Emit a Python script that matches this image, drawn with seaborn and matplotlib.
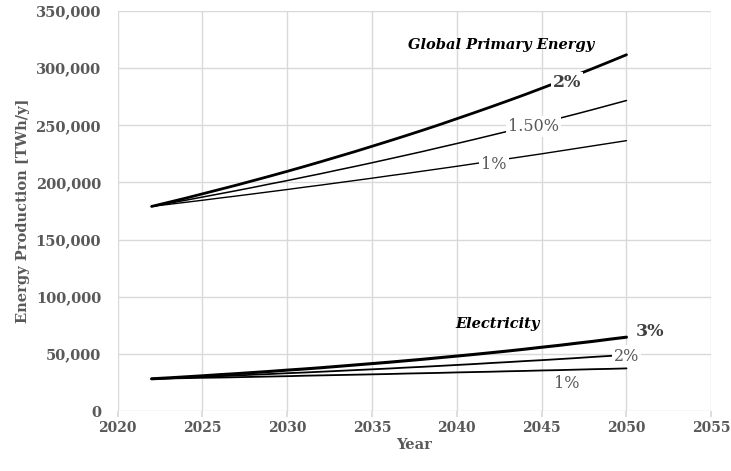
import matplotlib
matplotlib.use("Agg")
import matplotlib.pyplot as plt
import seaborn as sns
import pandas as pd

# Years of the projection
years = list(range(2022, 2051))

# Global primary energy projections [TWh/y]
primary_2pct = [179000, 182600, 186200, 190000, 193800, 197600, 201600, 205600, 209700, 213900,
                218200, 222600, 227000, 231600, 236200, 240900, 245700, 250600, 255700, 260800,
                266000, 271300, 276700, 282300, 287900, 293700, 299500, 305500, 311600]
primary_15pct = [179000, 181700, 184400, 187200, 190000, 192800, 195700, 198700, 201600, 204700,
                 207700, 210900, 214000, 217200, 220500, 223800, 227100, 230600, 234000, 237500,
                 241100, 244700, 248400, 252100, 255900, 259700, 263600, 267600, 271600]
primary_1pct = [179000, 180800, 182600, 184400, 186300, 188100, 190000, 191900, 193800, 195800,
                197700, 199700, 201700, 203700, 205800, 207800, 209900, 212000, 214100, 216300,
                218400, 220600, 222800, 225000, 227300, 229600, 231900, 234200, 236500]

# Electricity projections [TWh/y]
elec_3pct = [28300, 29100, 30000, 30900, 31900, 32800, 33800, 34800, 35900, 36900,
             38000, 39200, 40400, 41600, 42800, 44100, 45400, 46800, 48200, 49600,
             51100, 52600, 54200, 55900, 57500, 59300, 61000, 62900, 64700]
elec_2pct = [28300, 28900, 29400, 30000, 30600, 31200, 31900, 32500, 33200, 33800,
             34500, 35200, 35900, 36600, 37300, 38100, 38800, 39600, 40400, 41200,
             42100, 42900, 43800, 44600, 45500, 46400, 47400, 48300, 49300]
elec_1pct = [28300, 28600, 28900, 29200, 29400, 29700, 30000, 30300, 30600, 31000,
             31300, 31600, 31900, 32200, 32500, 32900, 33200, 33500, 33900, 34200,
             34500, 34900, 35200, 35600, 35900, 36300, 36700, 37000, 37400]

series_names = ["Primary 2%", "Primary 1.5%", "Primary 1%", "Electricity 3%", "Electricity 2%", "Electricity 1%"]
series_values = [primary_2pct, primary_15pct, primary_1pct, elec_3pct, elec_2pct, elec_1pct]
line_widths = [2.0, 1.1, 1.0, 2.2, 1.3, 1.3]

x_ticks = [2020, 2025, 2030, 2035, 2040, 2045, 2050, 2055]
y_ticks = [0, 50000, 100000, 150000, 200000, 250000, 300000, 350000]

df = pd.DataFrame({
    "Year": years * len(series_names),
    "Value": [v for vals in series_values for v in vals],
    "Series": [name for name in series_names for _ in years],
})

sns.set_theme(style="whitegrid")
plt.rcParams["font.family"] = ["DejaVu Serif"]

fig = plt.figure(figsize=(7.31, 4.71), dpi=100)
ax = fig.add_axes([0.161, 0.127, 0.812, 0.85])

for name, lw in zip(series_names, line_widths):
    sns.lineplot(data=df[df["Series"] == name], x="Year", y="Value", ax=ax,
                 color="black", linewidth=lw, legend=False, zorder=2)

ax.set_xlim(2020, 2055)
ax.set_ylim(0, 350000)
ax.set_xticks(x_ticks)
ax.set_yticks(y_ticks)
ax.set_yticklabels([f"{t:,}" for t in y_ticks])

grid_color = "#d9d9d9"
tick_color = "#595959"
ax.grid(True, color=grid_color, linewidth=1.0)
for s in ax.spines.values():
    s.set_visible(False)
ax.tick_params(axis="x", which="major", bottom=True, length=4, color=grid_color,
               labelsize=10, labelcolor=tick_color, pad=3)
ax.tick_params(axis="y", left=False, labelsize=10.5, labelcolor=tick_color, pad=6)
for lab in ax.get_xticklabels() + ax.get_yticklabels():
    lab.set_fontweight("bold")

ax.set_xlabel("Year", fontsize=10.5, fontweight="bold", color=tick_color, labelpad=2)
ax.set_ylabel("Energy Production [TWh/y]", fontsize=10.5, fontweight="bold",
              color=tick_color, labelpad=4)

box = dict(facecolor="white", edgecolor="none", pad=1.5)

# Group titles
ax.text(2042.6, 320500, "Global Primary Energy", fontsize=10.5, fontweight="bold",
        fontstyle="italic", color="black", ha="center", va="center")
ax.text(2042.4, 76200, "Electricity", fontsize=10.5, fontweight="bold",
        fontstyle="italic", color="black", ha="center", va="center")

# Growth-rate labels sitting on the lines
ax.text(2046.5, 287200, "2%", fontsize=12.5, fontweight="bold", color="#404040",
        ha="center", va="center", bbox=box, zorder=3)
ax.text(2044.5, 248700, "1.50%", fontsize=11.5, color="#595959",
        ha="center", va="center", bbox=box, zorder=3)
ax.text(2042.2, 215400, "1%", fontsize=11.5, color="#595959",
        ha="center", va="center", bbox=box, zorder=3)
ax.text(2051.4, 70000, "3%", fontsize=12.5, fontweight="bold", color="#404040",
        ha="center", va="center", bbox=box, zorder=3)
ax.text(2050.0, 48200, "2%", fontsize=11.5, color="#595959",
        ha="center", va="center", bbox=box, zorder=3)
ax.text(2046.5, 24500, "1%", fontsize=11.5, color="#595959",
        ha="center", va="center", bbox=box, zorder=3)

fig.savefig("out.png", dpi=100)
